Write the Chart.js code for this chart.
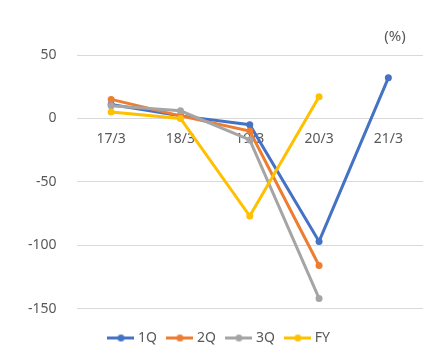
<!DOCTYPE html>
<html>
<head>
<meta charset="utf-8">
<script src="https://cdn.jsdelivr.net/npm/chart.js@4/dist/chart.umd.min.js"></script>
<style>
html,body{margin:0;padding:0;background:#fff;}
#wrap{width:436px;height:360px;}
</style>
</head>
<body>
<div id="wrap"><canvas id="c" width="436" height="360"></canvas></div>
<script>
const categories = ['17/3', '18/3', '19/3', '20/3', '21/3'];
const seriesNames = ['1Q', '2Q', '3Q', 'FY'];
const q1 = [11, 2, -5, -97, 32];
const q2 = [15, 2, -10, -116, null];
const q3 = [10, 6, -17, -142, null];
const fy = [5, 0, -77, 17, null];
const yTicks = [-150, -100, -50, 0, 50];
const unitLabel = '(%)';

const colors = ['#4472C4', '#ED7D31', '#A5A5A5', '#FFC000'];
const values = [q1, q2, q3, fy];
const FONT = '"Noto Sans", sans-serif';
const TXT = '#595959';

function legendIcon(color) {
  const cv = document.createElement('canvas');
  cv.width = 27; cv.height = 9;
  const g = cv.getContext('2d');
  g.strokeStyle = color; g.lineWidth = 3; g.lineCap = 'butt';
  g.beginPath(); g.moveTo(0, 4.5); g.lineTo(27, 4.5); g.stroke();
  g.fillStyle = color; g.beginPath(); g.arc(13.5, 4.5, 3.5, 0, Math.PI * 2); g.fill();
  return cv;
}

const unitPlugin = {
  id: 'unitPlugin',
  afterLayout(chart) {
    if (chart.legend) { chart.legend.left += 5; chart.legend.right += 5; }
  },
  afterDraw(chart) {
    const {ctx, chartArea} = chart;
    ctx.save();
    ctx.font = '15px ' + FONT;
    ctx.fillStyle = TXT;
    ctx.textAlign = 'center';
    ctx.textBaseline = 'middle';
    ctx.fillText(unitLabel, chartArea.right - 28, chartArea.top - 18);
    ctx.restore();
  }
};

new Chart(document.getElementById('c'), {
  type: 'line',
  data: {
    labels: categories,
    datasets: seriesNames.map((n, i) => ({
      label: n,
      data: values[i],
      borderColor: colors[i],
      backgroundColor: colors[i],
      borderWidth: 3,
      pointRadius: 3.5,
      pointHoverRadius: 3.5,
      pointBorderWidth: 0,
      tension: 0,
      spanGaps: false,
      order: 4 - i
    }))
  },
  options: {
    responsive: false,
    animation: false,
    layout: {padding: {top: 55, right: 13, left: 8, bottom: 5}},
    plugins: {
      tooltip: {enabled: false},
      legend: {
        position: 'bottom',
        title: {display: true, text: ' ', font: {size: 7, lineHeight: 1.2}, padding: {top: 0, bottom: 1}},
        labels: {
          usePointStyle: true,
          pointStyleWidth: 20,
          boxHeight: 9,
          padding: 13,
          color: TXT,
          font: {family: FONT, size: 14},
          generateLabels(chart) {
            return chart.data.datasets.map((ds, i) => ({
              text: ds.label,
              fontColor: TXT,
              pointStyle: legendIcon(ds.borderColor),
              fillStyle: ds.borderColor,
              strokeStyle: ds.borderColor,
              lineWidth: 0,
              hidden: false,
              datasetIndex: i
            }));
          }
        }
      }
    },
    scales: {
      x: {
        position: {y: 0},
        offset: true,
        grid: {display: false, drawTicks: false},
        border: {display: false},
        ticks: {color: TXT, font: {family: FONT, size: 14}, padding: 12, maxRotation: 0}
      },
      y: {
        min: -150, max: 50,
        afterBuildTicks(axis) { axis.ticks = yTicks.map(v => ({value: v})); },
        grid: {color: '#D9D9D9', lineWidth: 1, drawTicks: false},
        border: {display: false},
        ticks: {color: TXT, font: {family: FONT, size: 14}, padding: 20}
      }
    }
  },
  plugins: [unitPlugin]
});
</script>
</body>
</html>
